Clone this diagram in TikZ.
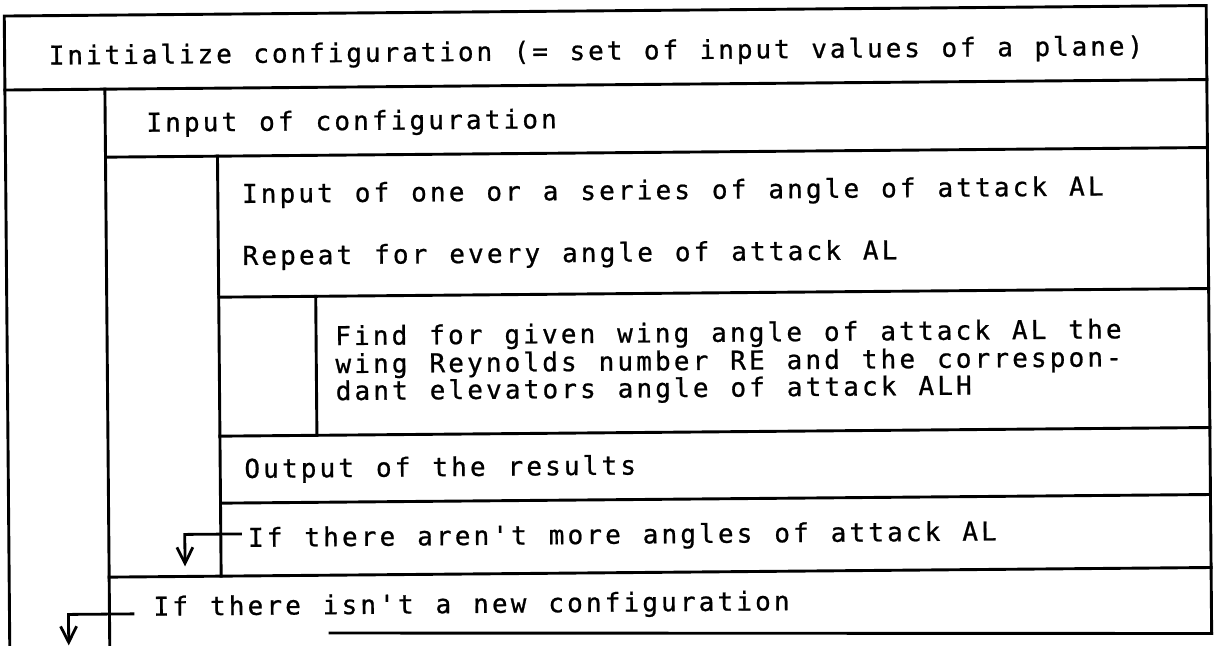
\documentclass[tikz,border=0pt]{standalone}
\usepackage{fontspec}
\newfontfamily\nsdfont[Ligatures=TeXOff,FakeBold=0.8]{DejaVu Sans Mono}
\usetikzlibrary{arrows.meta}
% fixed-pitch setting: every character, spaces included, gets a box of the given width
\ExplSyntaxOn
\NewDocumentCommand \pitched { O{18.8pt} m }
  { \str_map_inline:nn {#2} { \makebox[#1][l]{##1} } }
\ExplSyntaxOff
\tikzset{
  rule/.style={line width=2.9pt, line cap=rect},
  txt/.style={anchor=base west, inner sep=0pt,
    font=\nsdfont\fontsize{26}{26}\selectfont},
  exitarrow/.style={line width=2.8pt,
    -{Straight Barb[length=16pt,width=16pt,line width=2.8pt]}}
}
\begin{document}
\begin{tikzpicture}[x=1pt,y=-1pt]
\useasboundingbox (0,0) rectangle (1214,645);
\begin{scope}[rotate around={0.5:(8,330)}, transform shape]
  % outer frame and nesting bars
  \draw[rule] (7,650) -- (7,16) -- (1209,16) -- (1209,644);
  \coordinate (rb) at (1209,644);
  \draw[rule] (7,90) -- (1209,90);
  \draw[rule] (107,90) -- (107,650);
  \draw[rule] (107,158) -- (1209,158);
  \draw[rule] (219,158) -- (219,578);
  \draw[rule] (219,299) -- (1209,299);
  \draw[rule] (316,299) -- (316,438);
  \draw[rule] (219,438) -- (1209,438);
  \draw[rule] (219,505) -- (1209,505);
  \draw[rule] (107,578) -- (1209,578);

  % statements
  \node[txt] (init) at (51,65) {\pitched[18.6pt]{Initialize configuration (= set of input values of a plane)}};
  \node[txt] (incfg) at (148,133) {\pitched{Input of configuration}};
  \node[txt] (inal) at (243,205) {\pitched{Input of one or a series of angle of attack AL}};
  \node[txt] (rep) at (243,267) {\pitched{Repeat for every angle of attack AL}};
  \node[txt] (finda) at (335,348) {\pitched{Find for given wing angle of attack AL the}};
  \node[txt] (findb) at (335,376) {\pitched{wing Reynolds number RE and the correspon-}};
  \node[txt] (findc) at (335,403) {\pitched{dant elevators angle of attack ALH}};
  \node[txt] (outres) at (243,480) {\pitched{Output of the results}};
  \node[txt] (exitA) at (246,549) {\pitched{If there aren't more angles of attack AL}};
  \node[txt] (exitB) at (151,617) {\pitched{If there isn't a new configuration}};

  % exit arrows
  \coordinate (tipA) at (183,568);
  \coordinate (tipB) at (66,646);
  \draw[exitarrow] ([shift={(-6,-13)}]exitA.base west) -| (tipA);
  \draw[exitarrow] ([shift={(-19,-2)}]exitB.base west) -| (tipB);
\end{scope}
\draw[rule] (330,633) -- (rb);
\end{tikzpicture}
\end{document}
